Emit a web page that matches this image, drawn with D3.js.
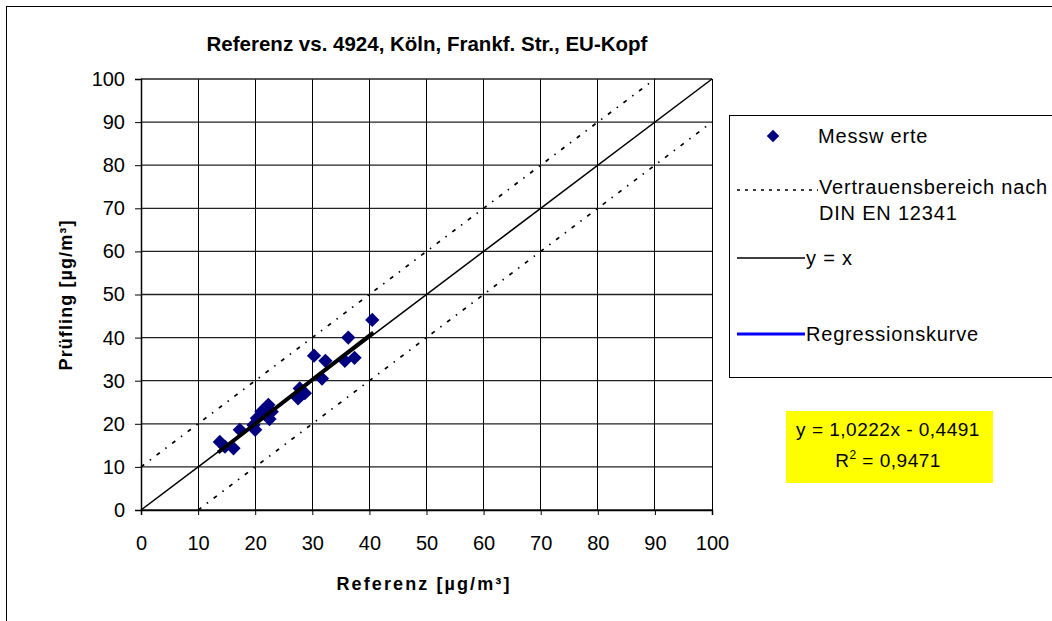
<!DOCTYPE html>
<html><head><meta charset="utf-8">
<script src="https://cdn.jsdelivr.net/npm/d3@7"></script>
<style>body{margin:0;background:#fff;font-family:"Liberation Sans",Arial,sans-serif}</style>
</head><body><svg id="c" width="1052" height="621"></svg>
<script>
const title = "Referenz vs. 4924, Köln, Frankf. Str., EU-Kopf";
const xTitle = "Referenz [µg/m³]";
const yTitle = "Prüfling [µg/m³]";
const ticks = [0,10,20,30,40,50,60,70,80,90,100];
const refX = [40.5,36.3,30.3,32.3,35.7,37.4,31.7,27.8,28.7,27.5,28.1,22.3,21.1,20.3,19.7,20.0,22.9,17.3,13.8,16.2,14.7,22.5];
const testY = [44.1,40.0,35.8,34.6,34.6,35.3,30.5,28.2,27.1,25.9,26.7,24.4,22.8,21.3,19.7,18.6,22.8,18.6,15.8,14.3,14.7,21.1];
const slope = 1.0222, intercept = -0.4491;
const regRange = [13.5, 40.7];
const confOffset = 10;
const legendLabels = ["Messw erte","Vertrauensbereich nach","DIN EN 12341","y = x","Regressionskurve"];
const eqLine1 = "y = 1,0222x - 0,4491";
const eqR2Value = " = 0,9471";

const FONT = "Liberation Sans, Arial, sans-serif";
const svg = d3.select("#c").attr("font-family",FONT);
const x = d3.scaleLinear().domain([0,100]).range([141,712]);
const y = d3.scaleLinear().domain([0,100]).range([510,79]);

// outer border
svg.append("rect").attr("x",6.5).attr("y",6.5).attr("width",1100).attr("height",700)
  .attr("fill","#fff").attr("stroke","#000").attr("stroke-width",1);

// grid
const g = svg.append("g");
g.selectAll(".vg").data(ticks).join("line").attr("x1",d=>x(d)).attr("x2",d=>x(d))
  .attr("y1",y(0)).attr("y2",y(100)).attr("stroke","#000").attr("stroke-width",1).attr("shape-rendering","crispEdges");
g.selectAll(".hg").data(ticks).join("line").attr("y1",d=>y(d)).attr("y2",d=>y(d))
  .attr("x1",x(0)).attr("x2",x(100)).attr("stroke","#222").attr("stroke-width",1.3);

// axes
const xa = svg.append("g").attr("transform",`translate(0,${y(0)})`)
  .call(d3.axisBottom(x).tickValues(ticks).tickSize(5).tickPadding(21));
const ya = svg.append("g").attr("transform",`translate(${x(0)},0)`)
  .call(d3.axisLeft(y).tickValues(ticks).tickSize(6).tickPadding(10));
[xa,ya].forEach(a=>{
  a.attr("font-family",FONT).attr("font-size",20);
  a.select(".domain").attr("stroke","#000").attr("stroke-width",1.5);
  a.selectAll(".tick line").attr("stroke","#000");
  a.selectAll("text").attr("fill","#000");
});

// reference lines
const line = d3.line().x(d=>x(d[0])).y(d=>y(d[1]));
[[[0,confOffset],[100-confOffset,100]],[[confOffset,0],[100,100-confOffset]]].forEach(seg=>{
  svg.append("path").attr("d",line(seg)).attr("stroke","#000")
    .attr("stroke-width",1.7).attr("stroke-dasharray","4,7,1.5,7").attr("fill","none");
});
svg.append("path").attr("d",line([[0,0],[100,100]])).attr("stroke","#000").attr("stroke-width",1.5).attr("fill","none");

// points
const pts = refX.map((v,i)=>[v,testY[i]]);
svg.selectAll(".pt").data(pts).join("path")
  .attr("transform",d=>`translate(${x(d[0])},${y(d[1])})`)
  .attr("d",d3.symbol().type(d3.symbolDiamond2).size(130))
  .attr("fill","#000080");

// regression line
svg.append("path").attr("d",line(regRange.map(v=>[v,slope*v+intercept])))
  .attr("stroke","#000").attr("stroke-width",4).attr("fill","none");

// titles
svg.append("text").attr("x",427).attr("y",51).attr("text-anchor","middle")
  .attr("font-size",20.5).attr("font-weight","bold").text(title);
svg.append("text").attr("x",424).attr("y",590).attr("text-anchor","middle")
  .attr("font-size",18).attr("font-weight","bold").attr("letter-spacing",2.1).text(xTitle);
svg.append("text").attr("transform","translate(72,295) rotate(-90)").attr("text-anchor","middle")
  .attr("font-size",18).attr("font-weight","bold").attr("letter-spacing",1.1).text(yTitle);

// legend
svg.append("rect").attr("x",729.5).attr("y",115.5).attr("width",400).attr("height",262)
  .attr("fill","#fff").attr("stroke","#000");
svg.append("path").attr("transform","translate(773,136)")
  .attr("d",d3.symbol().type(d3.symbolDiamond2).size(100)).attr("fill","#000080");
svg.append("line").attr("x1",737).attr("x2",818).attr("y1",190).attr("y2",190)
  .attr("stroke","#000").attr("stroke-width",1.5).attr("stroke-dasharray","3,5");
svg.append("line").attr("x1",737).attr("x2",805).attr("y1",258).attr("y2",258).attr("stroke","#000").attr("stroke-width",1.5);
svg.append("line").attr("x1",737).attr("x2",805).attr("y1",334).attr("y2",334).attr("stroke","#0000ff").attr("stroke-width",3);
const legY = [143,194,220,265,341];
const legX = [818,819,819,806,806];
legendLabels.forEach((t,i)=>svg.append("text").attr("x",legX[i]).attr("y",legY[i])
  .attr("font-size",20).attr("letter-spacing",0.8).text(t));

// equation box
svg.append("rect").attr("x",786).attr("y",411).attr("width",207).attr("height",72).attr("fill","#ffff00");
svg.append("text").attr("x",888).attr("y",436).attr("text-anchor","middle").attr("font-size",19)
  .attr("letter-spacing",0.5).text(eqLine1);
const r2 = svg.append("text").attr("x",888).attr("y",467).attr("text-anchor","middle").attr("font-size",19).attr("letter-spacing",0.5);
r2.append("tspan").text("R");
r2.append("tspan").attr("font-size",12).attr("dy",-8).text("2");
r2.append("tspan").attr("dy",8).text(eqR2Value);
</script></body></html>
